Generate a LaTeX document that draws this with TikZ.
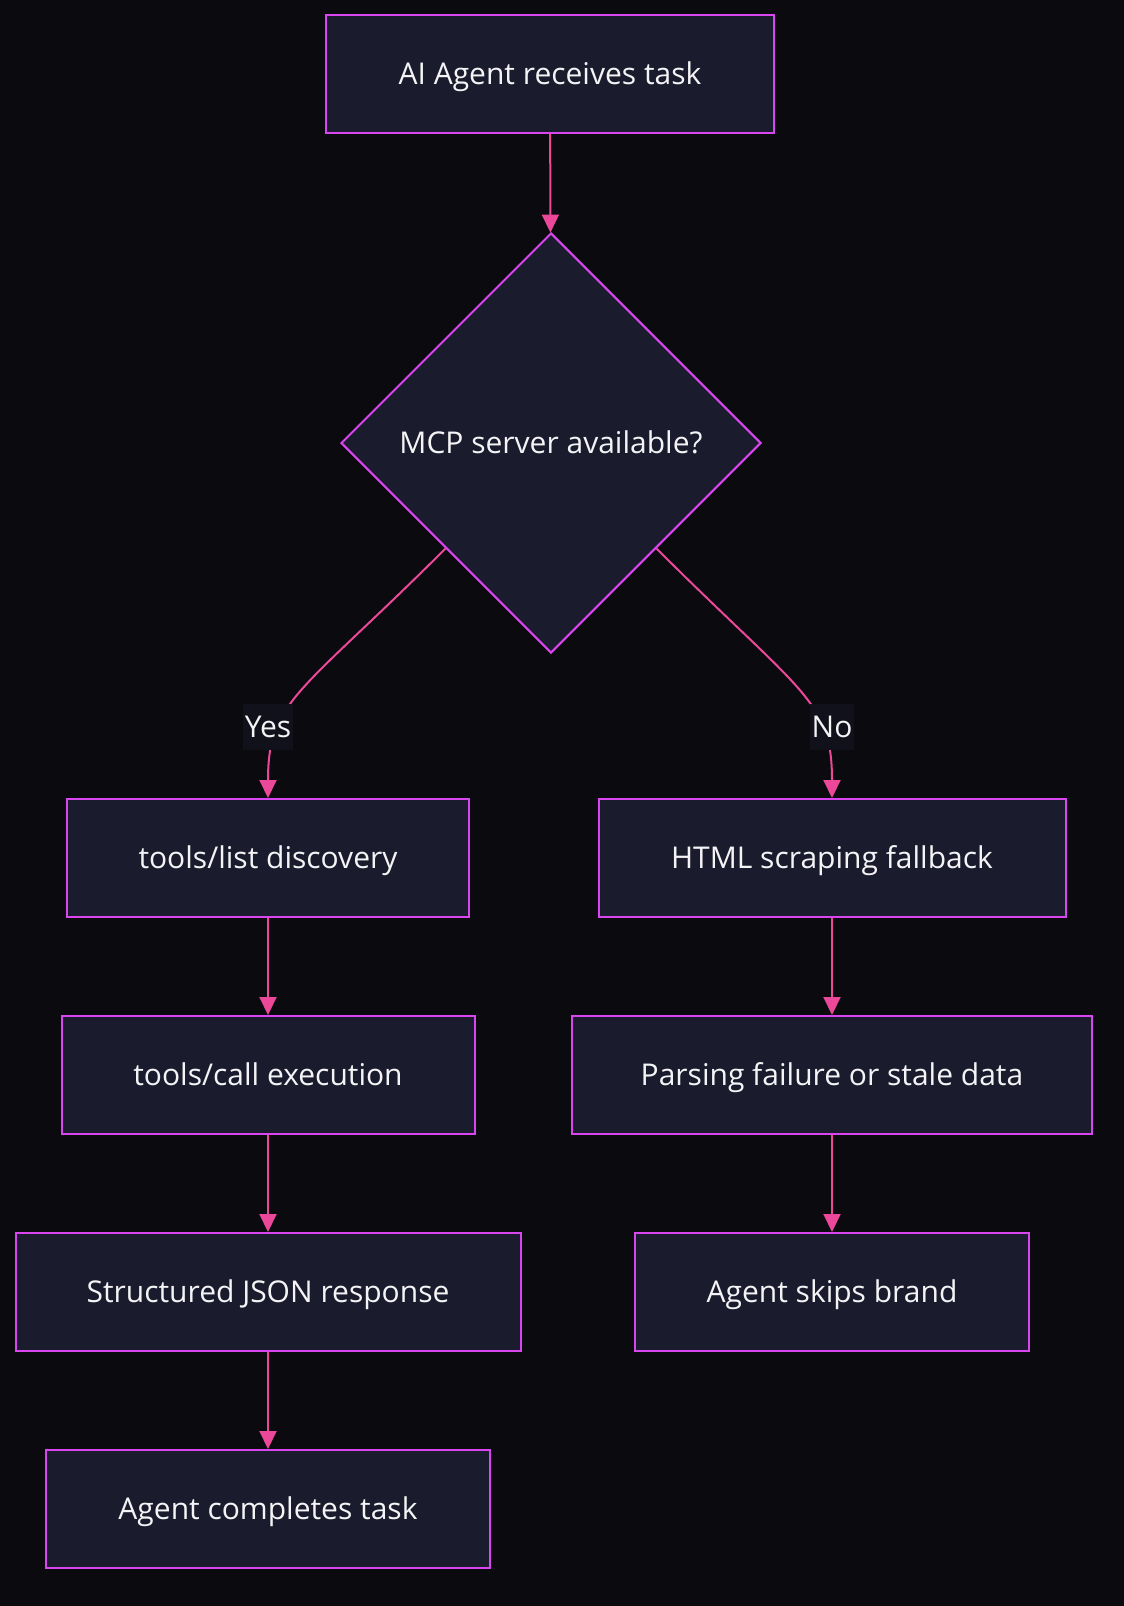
\documentclass[tikz,border=0pt]{standalone}
\usepackage{fontspec}
\setmainfont{Open Sans}
\usetikzlibrary{shapes.geometric,arrows.meta}
\definecolor{bgcol}{HTML}{0A0A0F}
\definecolor{nodefill}{HTML}{1B1B2E}
\definecolor{nodeline}{HTML}{D946EF}
\definecolor{edgecol}{HTML}{EC4899}
\definecolor{labelbg}{HTML}{11111B}
\definecolor{txtcol}{HTML}{F4F4F6}
\begin{document}
\begin{tikzpicture}[x=1pt, y=-1pt,
        every node/.style={font=\fontsize{30}{36}\selectfont, text=txtcol, text height=21pt, text depth=0pt},
        stepbox/.style={rectangle, draw=nodeline, fill=nodefill, line width=2pt, minimum height=118pt, inner sep=0pt},
        decision/.style={diamond, draw=nodeline, fill=nodefill, line width=2pt, minimum width=420pt, minimum height=420pt, aspect=1, inner sep=0pt},
        flow/.style={draw=edgecol, line width=2pt, -{Triangle[length=18pt, width=17pt]}},
        branch/.style={fill=labelbg, inner sep=2pt, minimum height=46pt}
    ]
    \fill[bgcol] (0,0) rectangle (1124,1606);
    \useasboundingbox (0,0) rectangle (1124,1606);
    \node[stepbox, minimum width=448pt] (task) at (550,74) {AI Agent receives task};
    \node[decision] (mcp) at (551,443) {MCP server available?};
    \node[stepbox, minimum width=402pt] (list) at (268,858) {tools/list discovery};
    \node[stepbox, minimum width=413pt] (call) at (268,1075) {tools/call execution};
    \node[stepbox, minimum width=505pt] (json) at (268,1292) {Structured JSON response};
    \node[stepbox, minimum width=444pt] (done) at (268,1509) {Agent completes task};
    \node[stepbox, minimum width=467pt] (html) at (832,858) {HTML scraping fallback};
    \node[stepbox, minimum width=520pt] (parse) at (832,1075) {Parsing failure or stale data};
    \node[stepbox, minimum width=394pt] (skip) at (832,1292) {Agent skips brand};
    \draw[flow] (task) -- (mcp);
    \draw[flow] (mcp.south west) .. controls (300,694) and (268,700) .. (list.north);
    \draw[flow] (mcp.south east) .. controls (802,694) and (832,700) .. (html.north);
    \node[branch] (yes) at (268,727) {Yes};
    \node[branch] (no) at (832,727) {No};
    \draw[flow] (list) -- (call);
    \draw[flow] (call) -- (json);
    \draw[flow] (json) -- (done);
    \draw[flow] (html) -- (parse);
    \draw[flow] (parse) -- (skip);
\end{tikzpicture}
\end{document}
